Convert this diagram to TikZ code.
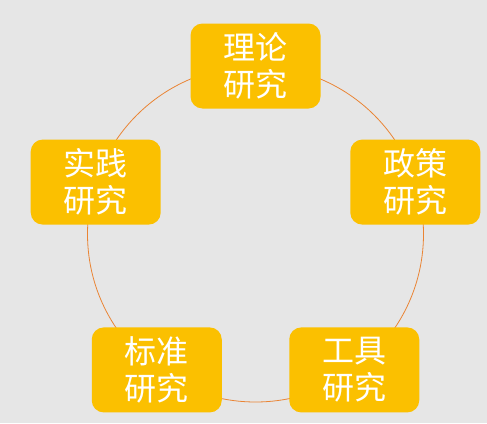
\documentclass[tikz,border=0pt]{standalone}
\usepackage{fontspec}
\newfontfamily\cjk{Noto Sans CJK SC}
\definecolor{bggray}{HTML}{E6E6E6}
\definecolor{ringorange}{HTML}{EA8434}
\definecolor{boxgold}{HTML}{FBC000}
\tikzset{topic/.style={fill=boxgold,
    rounded corners=12pt,
    minimum width=130pt, minimum height=85pt,
    inner sep=0pt, align=center, text=white,
    font=\cjk\fontsize{32}{37}\selectfont},
    ring/.style={draw=ringorange, line width=0.8pt},
    }

\begin{document}
\begin{tikzpicture}[x=1pt,y=1pt]
\fill[bggray] (0,0) rectangle (487,-423);
\useasboundingbox (0,0) rectangle (487,-423);
\coordinate (hub) at (255.5,-234);
\draw[ring] (hub) circle (168pt);
% five topics round the ring
\node[topic] (theory) at ([shift={(90:168pt)}]hub) {理论\\研究};
\node[topic] (policy) at ([shift={(18:168pt)}]hub) {政策\\研究};
\node[topic] (tool) at ([shift={(-54:168pt)}]hub) {工具\\研究};
\node[topic] (standard) at ([shift={(-126:168pt)}]hub) {标准\\研究};
\node[topic] (practice) at ([shift={(162:168pt)}]hub) {实践\\研究};
\end{tikzpicture}
\end{document}
